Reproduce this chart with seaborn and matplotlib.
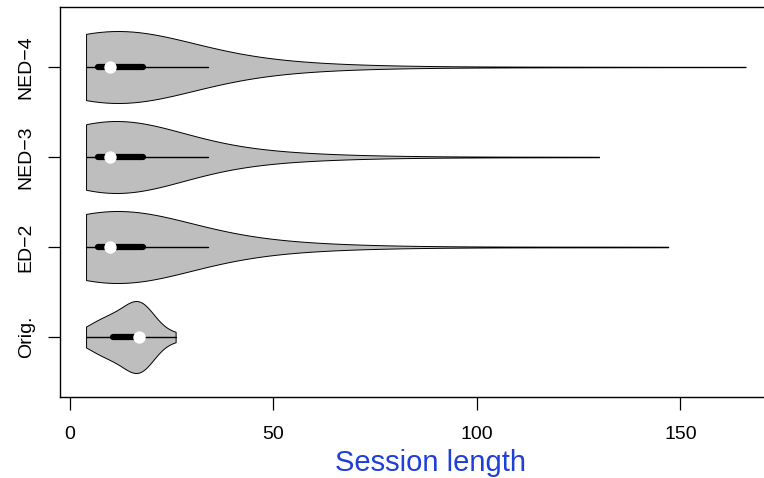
import matplotlib
matplotlib.use("Agg")
import matplotlib.pyplot as plt
import numpy as np
import pandas as pd
import seaborn as sns

# categories, top to bottom
groups = ["NED\u22124", "NED\u22123", "ED\u22122", "Orig."]

# session lengths: value -> how many sessions
core_values = [4, 5, 6, 7, 8, 9, 10, 11, 12, 13, 14, 15, 16, 17, 18,
               20, 22, 24, 26, 28, 30, 32, 34, 37, 40, 43, 46, 49,
               52, 55, 58, 62, 66, 70, 75, 80]
core_counts = [16, 18, 18, 18, 21, 21, 28, 11, 10, 9, 9, 8, 7, 6, 6,
               5, 5, 5, 4, 4, 4, 4, 4, 4, 3, 3, 3, 3,
               2, 2, 2, 1, 1, 1, 1, 1]
ned4_tail = [90, 110, 130, 166]
ned3_tail = [90, 110, 130]
ed2_tail = [90, 110, 130, 147]
orig_values = [4, 6, 8, 9, 10, 11, 12, 14, 16,
               17, 17, 17, 17, 17, 17, 18, 18, 19, 26]

plt.rcParams['font.size'] = 14


def main():
    core = list(np.repeat(core_values, core_counts))
    samples = {
        groups[0]: core + ned4_tail,
        groups[1]: core + ned3_tail,
        groups[2]: core + ed2_tail,
        groups[3]: orig_values,
    }
    rows = [[g, v] for g in groups for v in samples[g]]
    df = pd.DataFrame(rows, columns=["Group", "Session length"])

    sns.set_style("ticks")
    plt.rcParams['font.family'] = ['Liberation Sans', 'DejaVu Sans']

    fig = plt.figure(figsize=(7.64, 4.78), dpi=100)
    ax = fig.add_axes([60 / 764, 80.7 / 478, 712 / 764, 390.6 / 478])

    style = dict(x="Session length", y="Group", order=groups, orient="h",
                 color="#BEBEBE", linecolor="black", linewidth=0.7,
                 saturation=1, cut=0, width=0.8, density_norm="width",
                 inner="box",
                 inner_kws=dict(box_width=4.5, whis_width=1.0,
                                marker="o", markersize=8),
                 ax=ax)
    # long-tailed variants and the original sessions get their own bandwidth
    sns.violinplot(data=df[df["Group"] != "Orig."], bw_adjust=2.8, **style)
    sns.violinplot(data=df[df["Group"] == "Orig."], bw_adjust=1.25, **style)

    ax.set_xlim(-2.4, 172.5)
    ax.set_ylim(3.67, -0.67)
    ax.set_xticks([0, 50, 100, 150])
    ax.set_xlabel("")
    ax.set_ylabel("")
    ax.set_yticks(range(len(groups)))
    ax.set_yticklabels(groups, rotation=90, va="center")
    ax.tick_params(axis="both", colors="black", labelcolor="black")
    ax.tick_params(axis="x", length=9, width=0.9, pad=12, labelsize=14)
    ax.tick_params(axis="y", length=8.6, width=0.9, pad=9.5, labelsize=14)
    for s in ax.spines.values():
        s.set_visible(True)
        s.set_linewidth(1.0)
        s.set_color("black")

    fig.text(430.5 / 764, 7 / 478, "Session length", color="#1F3FD8",
             fontsize=21, ha="center", va="baseline")

    fig.savefig("out.png", dpi=100)


if __name__ == "__main__":
    main()
